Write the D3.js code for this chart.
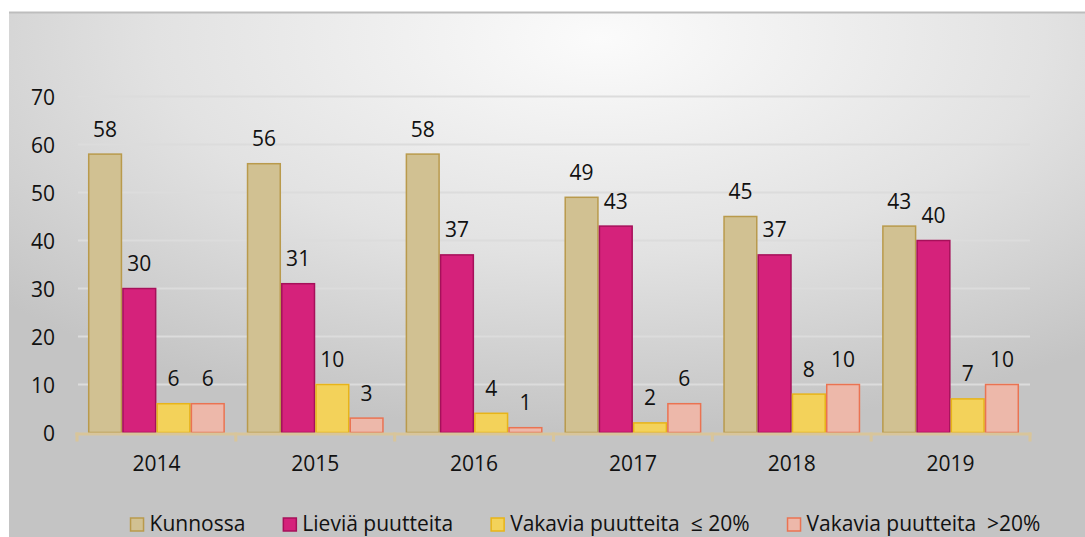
<!DOCTYPE html>
<html>
<head>
<meta charset="utf-8">
<script src="https://cdn.jsdelivr.net/npm/d3@7"></script>
<style>
  html, body { margin: 0; padding: 0; background: #fff; }
  svg { display: block; font-family: "Open Sans", sans-serif; }
</style>
</head>
<body>
<div id="chart"></div>
<script>
// Data
const years = ["2014", "2015", "2016", "2017", "2018", "2019"];
const seriesNames = ["Kunnossa", "Lieviä puutteita", "Vakavia puutteita  ≤ 20%", "Vakavia puutteita  >20%"];
const kunnossa = [58, 56, 58, 49, 45, 43];
const lievia = [30, 31, 37, 43, 37, 40];
const vakaviaAlle = [6, 10, 4, 2, 8, 7];
const vakaviaYli = [6, 3, 1, 6, 10, 10];
const yTicks = [0, 10, 20, 30, 40, 50, 60, 70];

const seriesValues = [kunnossa, lievia, vakaviaAlle, vakaviaYli];
const fills = ["#d1c192", "#d5227b", "#f3d25a", "#edb8aa"];
const strokes = ["#b99a4c", "#a6105a", "#e8b418", "#ea7352"];

const width = 1085, height = 537;
const plot = { left: 77, right: 1030, top: 96.5, bottom: 432.5 };
const fontSize = 21;

const svg = d3.select("#chart").append("svg")
    .attr("width", width)
    .attr("height", height);

// Background
const defs = svg.append("defs");
const grad = defs.append("radialGradient")
    .attr("id", "bg")
    .attr("cx", "55%").attr("cy", "5%")
    .attr("r", "75%");
grad.append("stop").attr("offset", "0%").attr("stop-color", "#fbfbfb");
grad.append("stop").attr("offset", "55%").attr("stop-color", "#e2e2e2");
grad.append("stop").attr("offset", "100%").attr("stop-color", "#c4c4c4");

svg.append("rect")
    .attr("x", 9).attr("y", 12)
    .attr("width", width - 9).attr("height", height - 12)
    .attr("fill", "url(#bg)");

svg.append("line")
    .attr("x1", 9).attr("x2", width)
    .attr("y1", 12.5).attr("y2", 12.5)
    .attr("stroke", "#bdbdbd")
    .attr("stroke-width", 2);

// Scales
const x0 = d3.scaleBand()
    .domain(years)
    .range([plot.left, plot.right])
    .paddingInner(0.138)
    .paddingOuter(0.069);

const x1 = d3.scaleBand()
    .domain(d3.range(seriesNames.length))
    .range([0, x0.bandwidth()]);

const y = d3.scaleLinear()
    .domain([0, 70])
    .range([plot.bottom, plot.top]);

// Gridlines
svg.append("g")
    .selectAll("line")
    .data(yTicks.filter(t => t > 0))
    .join("line")
    .attr("x1", plot.left + 1)
    .attr("x2", plot.right)
    .attr("y1", d => y(d))
    .attr("y2", d => y(d))
    .attr("stroke", "#dcdcdc")
    .attr("stroke-width", 2);

// Y axis labels
const yAxis = d3.axisLeft(y).tickValues(yTicks).tickSize(0).tickPadding(0);
const gy = svg.append("g")
    .attr("transform", `translate(55,0)`)
    .call(yAxis);
gy.select(".domain").remove();
gy.selectAll("text")
    .attr("font-size", fontSize)
    .attr("font-family", "Open Sans, sans-serif")
    .attr("fill", "#111")
    .attr("dy", "0.36em");

// Bars
const rows = years.map((yr, i) => ({ year: yr, values: seriesValues.map(s => s[i]) }));

const groups = svg.append("g")
    .selectAll("g")
    .data(rows)
    .join("g")
    .attr("transform", d => `translate(${x0(d.year)},0)`);

groups.selectAll("rect")
    .data(d => d.values.map((v, k) => ({ k, v })))
    .join("rect")
    .attr("x", d => x1(d.k) + 0.75)
    .attr("width", x1.bandwidth() - 1.5)
    .attr("y", d => y(d.v))
    .attr("height", d => y(0) - y(d.v))
    .attr("fill", d => fills[d.k])
    .attr("stroke", d => strokes[d.k])
    .attr("stroke-width", 1.5);

groups.selectAll("text")
    .data(d => d.values.map((v, k) => ({ k, v })))
    .join("text")
    .attr("x", d => x1(d.k) + x1.bandwidth() / 2)
    .attr("y", d => y(d.v) - 17.5)
    .attr("text-anchor", "middle")
    .attr("font-size", fontSize)
    .attr("fill", "#111")
    .text(d => d.v);

// X axis
const xAxis = d3.axisBottom(x0).tickSize(0).tickPadding(0);
const gx = svg.append("g")
    .attr("transform", `translate(0,${plot.bottom + 1.5})`)
    .call(xAxis);
gx.select(".domain").remove();
gx.selectAll("text")
    .attr("font-size", fontSize)
    .attr("font-family", "Open Sans, sans-serif")
    .attr("fill", "#111")
    .attr("dy", 0)
    .attr("y", 36.5);

svg.append("line")
    .attr("x1", plot.left - 1.5).attr("x2", plot.right + 1.5)
    .attr("y1", plot.bottom + 1.5).attr("y2", plot.bottom + 1.5)
    .attr("stroke", "#d8c59b")
    .attr("stroke-width", 3);

// category boundary ticks
const boundaries = years.map(yr => x0(yr) - x0.step() * x0.paddingInner() / 2)
    .concat([plot.right]);
svg.append("g")
    .selectAll("line")
    .data(boundaries)
    .join("line")
    .attr("x1", d => d).attr("x2", d => d)
    .attr("y1", plot.bottom).attr("y2", plot.bottom + 9)
    .attr("stroke", "#d8c59b")
    .attr("stroke-width", 3);

// Legend
const legend = svg.append("g");
const items = legend.selectAll("g")
    .data(seriesNames)
    .join("g");
items.append("rect")
    .attr("y", 518)
    .attr("width", 13).attr("height", 13)
    .attr("fill", (d, i) => fills[i])
    .attr("stroke", (d, i) => strokes[i])
    .attr("stroke-width", 1.5);
items.append("text")
    .attr("x", 19)
    .attr("y", 531)
    .attr("font-size", fontSize)
    .attr("fill", "#111")
    .style("white-space", "pre")
    .text(d => d);

let cx = 0;
const offsets = [];
items.each(function() {
    offsets.push(cx);
    const w = d3.select(this).select("text").node().getComputedTextLength();
    cx += 19 + w + 38;
});
const total = cx - 38;
const startX = 585.5 - total / 2;
items.attr("transform", (d, i) => `translate(${startX + offsets[i]},0)`);
</script>
</body>
</html>
